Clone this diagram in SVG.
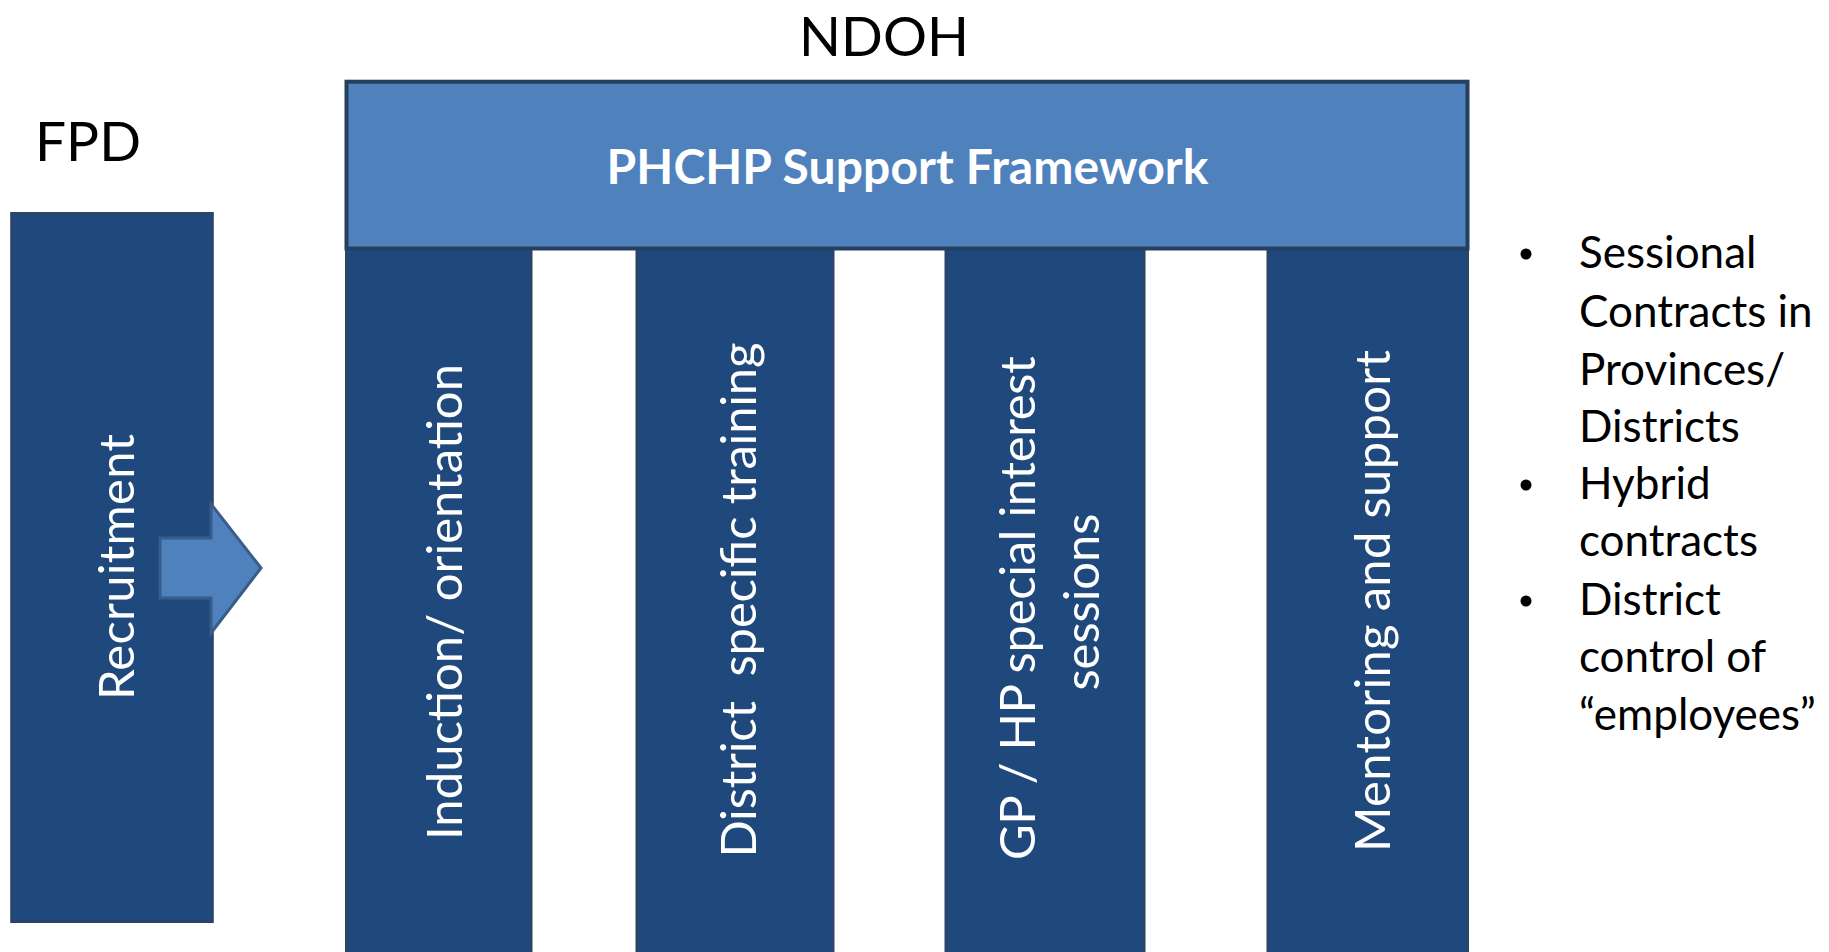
<svg xmlns="http://www.w3.org/2000/svg" width="1829" height="952" viewBox="0 0 1829 952">
  <style>
    .pillar { fill: #1F497D; stroke: #2A4566; stroke-width: 3; }
    .roof { fill: #4F81BD; stroke: #243F60; stroke-width: 4; }
    .arrow { fill: #4F81BD; stroke: #385D8A; stroke-width: 3; stroke-linejoin: miter; }
    .title { font-family: Lato, "Liberation Sans", sans-serif; font-size: 55px; fill: #000000; }
    .vlabel { font-family: Lato, "Liberation Sans", sans-serif; font-size: 49px; fill: #FFFFFF; text-anchor: middle; }
    .roof-label { font-family: Lato, "Liberation Sans", sans-serif; font-size: 48px; font-weight: bold; fill: #FFFFFF; text-anchor: middle; }
    .bullets { font-family: Lato, "Liberation Sans", sans-serif; font-size: 44px; fill: #000000; }
  </style>

  <rect width="1829" height="952" fill="#FFFFFF"/>

  <!-- headings -->
  <g id="label-ndoh">
    <text class="title" x="884" y="56" text-anchor="middle">NDOH</text>
  </g>
  <g id="label-fpd">
    <text class="title" x="35" y="161">FPD</text>
  </g>

  <!-- recruitment block -->
  <g id="node-recruitment">
    <rect class="pillar" x="11.7" y="213.5" width="200.6" height="708"/>
    <text class="vlabel" transform="translate(134 567) rotate(-90)" textLength="266">Recruitment</text>
  </g>

  <!-- pillars under the framework roof -->
  <g id="node-induction">
    <rect class="pillar" x="346.5" y="248.5" width="184.5" height="720"/>
    <text class="vlabel" transform="translate(462 602) rotate(-90)" textLength="476">Induction/ orientation</text>
  </g>
  <g id="node-district-training">
    <rect class="pillar" x="637" y="248.5" width="196" height="720"/>
    <text class="vlabel" transform="translate(756 600) rotate(-90)" textLength="515" xml:space="preserve">District  specific training</text>
  </g>
  <g id="node-special-interest">
    <rect class="pillar" x="946" y="248.5" width="198" height="720"/>
    <text class="vlabel" transform="translate(1035 602) rotate(-90)">
      <tspan x="0" y="0" textLength="504">GP / HP special interest</tspan>
      <tspan x="0" y="64" textLength="177">sessions</tspan>
    </text>
  </g>
  <g id="node-mentoring">
    <rect class="pillar" x="1268" y="248.5" width="199.5" height="720"/>
    <text class="vlabel" transform="translate(1390 601) rotate(-90)" textLength="502">Mentoring and support</text>
  </g>

  <!-- framework roof -->
  <g id="node-framework">
    <rect class="roof" x="346.5" y="81.7" width="1121" height="166.8"/>
    <text class="roof-label" x="907.5" y="184" textLength="602">PHCHP Support Framework</text>
  </g>

  <!-- connectors -->
  <g id="connectors">
    <polygon class="arrow" points="160,538 211,538 211,504 261,568 211,633 211,598 160,598"/>
  </g>

  <!-- contract notes -->
  <g id="notes">
    <g fill="#000000">
      <circle cx="1526" cy="254" r="5.5"/>
      <circle cx="1526" cy="485" r="5.5"/>
      <circle cx="1526" cy="601" r="5.5"/>
    </g>
    <text class="bullets">
      <tspan x="1579" y="268">Sessional</tspan>
      <tspan x="1579" y="326.6">Contracts in</tspan>
      <tspan x="1579" y="385">Provinces/</tspan>
      <tspan x="1579" y="442">Districts</tspan>
      <tspan x="1579" y="499">Hybrid</tspan>
      <tspan x="1579" y="556">contracts</tspan>
      <tspan x="1579" y="615">District</tspan>
      <tspan x="1579" y="672">control of</tspan>
      <tspan x="1579" y="730">“employees”</tspan>
    </text>
  </g>
</svg>
